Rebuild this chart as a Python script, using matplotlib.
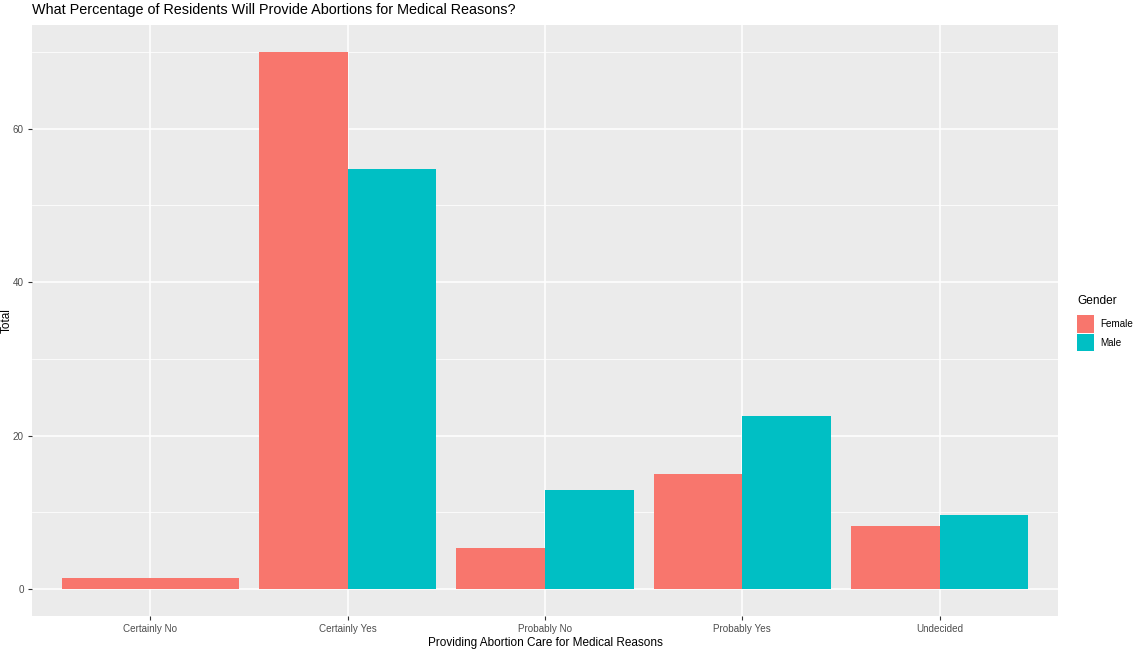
import matplotlib.pyplot as plt
import numpy as np
from matplotlib.patches import Patch

plt.rcParams['font.family'] = ['Liberation Sans', 'DejaVu Sans']

categories = ['Certainly No', 'Certainly Yes', 'Probably No', 'Probably Yes', 'Undecided']
female = [1.4, 70.0, 5.3, 15.0, 8.2]
male = [None, 54.8, 12.9, 22.6, 9.6]

female_color = '#F8766D'
male_color = '#00BFC4'

fig = plt.figure(figsize=(11.44, 6.51), dpi=100)
ax = fig.add_axes([32 / 1144, 1 - 616 / 651, (1058 - 32) / 1144, (616 - 25) / 651])
ax.set_facecolor('#EBEBEB')

x = np.arange(1, len(categories) + 1)
w = 0.9
for i, xi in enumerate(x):
    if male[i] is None:
        ax.bar(xi, female[i], width=w, color=female_color, zorder=3)
    else:
        ax.bar(xi - w / 4, female[i], width=w / 2, color=female_color, zorder=3)
        ax.bar(xi + w / 4, male[i], width=w / 2, color=male_color, zorder=3)

ax.set_xlim(0.4, 5.6)
ymax = max(female)
ax.set_ylim(-0.05 * ymax, 1.05 * ymax)
ax.set_xticks(x)
ax.set_xticklabels(categories)
ax.set_yticks([0, 20, 40, 60])
ax.set_yticks([10, 30, 50, 70], minor=True)

ax.grid(which='major', color='white', linewidth=1.1, zorder=0)
ax.grid(which='minor', axis='y', color='white', linewidth=0.55, zorder=0)
ax.tick_params(which='major', length=3, width=0.8, color='#333333', labelcolor='#4D4D4D', labelsize=7.1, pad=3)
ax.tick_params(which='minor', length=0)
for s in ax.spines.values():
    s.set_visible(False)

ax.set_xlabel('Providing Abortion Care for Medical Reasons', fontsize=8.5, labelpad=2)
ax.set_ylabel('Total', fontsize=8.5)
ax.yaxis.set_label_coords(-19 / 1026, 0.5)
fig.text(32 / 1144, 1 - 10 / 651, 'What Percentage of Residents Will Provide Abortions for Medical Reasons?',
         fontsize=10.4, ha='left', va='center')

handles = [Patch(facecolor=female_color, label='Female'), Patch(facecolor=male_color, label='Male')]
leg = fig.legend(handles=handles, title='Gender', loc='upper left', bbox_to_anchor=(1074 / 1144, 1 - 292 / 651),
                 frameon=False, fontsize=7.1, title_fontsize=8.6, handlelength=1.75, handleheight=2.35,
                 handletextpad=0.6, labelspacing=0.1, borderaxespad=0, borderpad=0.3)
leg._legend_box.align = 'left'
leg._legend_box.sep = 6

fig.savefig('out.png', dpi=100)
